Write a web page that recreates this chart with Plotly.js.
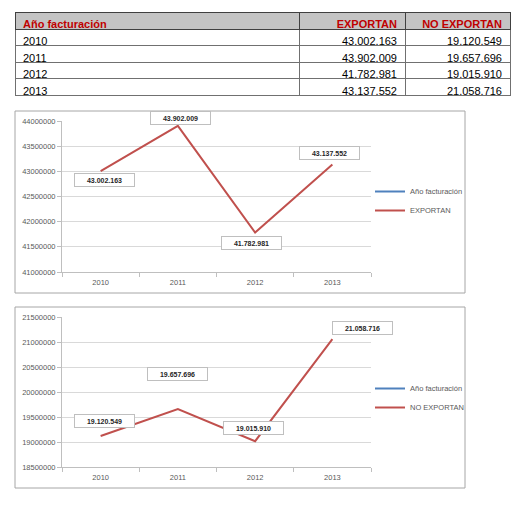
<!DOCTYPE html>
<html>
<head>
<meta charset="utf-8">
<script src="https://cdn.plot.ly/plotly-3.0.1.min.js"></script>
<style>html,body{margin:0;padding:0;background:#fff;}#chart{width:521px;height:523px;}</style>
</head>
<body>
<div id="chart"></div>
<script>
// ---- data ----
const years = ['2010', '2011', '2012', '2013'];
const yearValues = [2010, 2011, 2012, 2013];            // "Año facturación" series
const exportan = [43002163, 43902009, 41782981, 43137552];
const noExportan = [19120549, 19657696, 19015910, 21058716];
const colHeaders = ['Año facturación', 'EXPORTAN', 'NO EXPORTAN'];
const seriesNames = ['Año facturación', 'EXPORTAN', 'NO EXPORTAN'];

// ---- style / placement (not data) ----
const W = 521, H = 523;
const px = v => v / W;
const py = v => 1 - v / H;
const shift1 = [[4, -9], [3, 8], [-4, -10], [-3, 11]];
const shift2 = [[4, 15], [0, 35], [-2, 13], [30, 11]];
const RED = '#c0504d', BLUE = '#4f81bd';
const FONT = 'Liberation Sans, Arial, sans-serif';

const fmt = v => String(v).replace(/\B(?=(\d{3})+(?!\d))/g, '.');

const traces = [
  {
    type: 'table',
    domain: {x: [px(15), px(510)], y: [py(100), py(12)]},
    columnwidth: [284, 106, 105],
    header: {
      values: colHeaders,
      align: ['left', 'right', 'right'],
      fill: {color: '#c4c4c4'},
      line: {color: '#404040', width: 1},
      font: {family: FONT, size: 11, color: '#c00000', weight: 'bold'},
      height: 17
    },
    cells: {
      values: [years, exportan.map(fmt), noExportan.map(fmt)],
      align: ['left', 'right', 'right'],
      fill: {color: '#ffffff'},
      line: {color: '#707070', width: 1},
      font: {family: FONT, size: 11, color: '#000'},
      height: 16.5
    }
  },
  {type: 'scatter', mode: 'lines', x: years, y: yearValues, name: seriesNames[0],
   line: {color: BLUE, width: 2}, xaxis: 'x', yaxis: 'y', legend: 'legend'},
  {type: 'scatter', mode: 'lines', x: years, y: exportan, name: seriesNames[1],
   line: {color: RED, width: 2}, xaxis: 'x', yaxis: 'y', legend: 'legend'},
  {type: 'scatter', mode: 'lines', x: years, y: yearValues, name: seriesNames[0],
   line: {color: BLUE, width: 2}, xaxis: 'x2', yaxis: 'y2', legend: 'legend2'},
  {type: 'scatter', mode: 'lines', x: years, y: noExportan, name: seriesNames[2],
   line: {color: RED, width: 2}, xaxis: 'x2', yaxis: 'y2', legend: 'legend2'}
];

const tickFont = {family: FONT, size: 7.5, color: '#595959'};
const xax = (anchor) => ({
  type: 'category', categoryarray: years, categoryorder: 'array',
  range: [-0.5, 3.5], domain: [px(62), px(371)], anchor: anchor,
  showline: true, linecolor: '#bfbfbf', linewidth: 1, showgrid: false,
  ticks: 'outside', tickson: 'boundaries', ticklen: 4, tickcolor: '#bfbfbf',
  ticklabelstandoff: 3,
  tickfont: tickFont, fixedrange: true, zeroline: false
});
const yax = (range, dom, anchor) => ({
  range: range, domain: dom, anchor: anchor, dtick: 500000, tick0: range[0],
  tickformat: 'd', showline: true, linecolor: '#bfbfbf', linewidth: 1,
  showgrid: true, gridcolor: '#d9d9d9', gridwidth: 1,
  ticks: 'outside', ticklen: 4, tickcolor: '#bfbfbf', tickfont: tickFont,
  zeroline: false, fixedrange: true
});

const labelStyle = {
  showarrow: false, bgcolor: '#fff', bordercolor: '#bfbfbf', borderwidth: 1, borderpad: 1.5,
  width: 56, height: 9, font: {family: FONT, size: 7, color: '#262626', weight: 'bold'}
};
const annotations = [];
exportan.forEach((v, i) => annotations.push(Object.assign({
  xref: 'x', yref: 'y', x: i, y: v, text: fmt(v),
  xshift: shift1[i][0], yshift: shift1[i][1]
}, labelStyle)));
noExportan.forEach((v, i) => annotations.push(Object.assign({
  xref: 'x2', yref: 'y2', x: i, y: v, text: fmt(v),
  xshift: shift2[i][0], yshift: shift2[i][1]
}, labelStyle)));

const legendStyle = (ycenter) => ({
  x: px(370), xanchor: 'left', y: py(ycenter), yanchor: 'middle',
  bgcolor: 'rgba(0,0,0,0)', borderwidth: 0,
  font: {family: FONT, size: 7.5, color: '#595959'},
  tracegroupgap: 0, itemclick: false
});

const layout = {
  width: W, height: H,
  margin: {l: 0, r: 0, t: 0, b: 0},
  paper_bgcolor: '#fff', plot_bgcolor: '#fff',
  font: {family: FONT},
  showlegend: true,
  xaxis: xax('y'),
  yaxis: yax([41000000, 44000000], [py(272), py(121)], 'x'),
  xaxis2: xax('y2'),
  yaxis2: yax([18500000, 21500000], [py(467), py(317)], 'x2'),
  legend: legendStyle(201),
  legend2: legendStyle(398),
  annotations: annotations,
  shapes: [
    {type: 'rect', xref: 'paper', yref: 'paper', x0: px(15), x1: px(465), y0: py(293), y1: py(111),
     line: {color: '#a6a6a6', width: 1}, layer: 'below'},
    {type: 'rect', xref: 'paper', yref: 'paper', x0: px(15), x1: px(465), y0: py(488), y1: py(307),
     line: {color: '#a6a6a6', width: 1}, layer: 'below'}
  ]
};

Plotly.newPlot('chart', traces, layout, {staticPlot: true, displayModeBar: false});
</script>
</body>
</html>
